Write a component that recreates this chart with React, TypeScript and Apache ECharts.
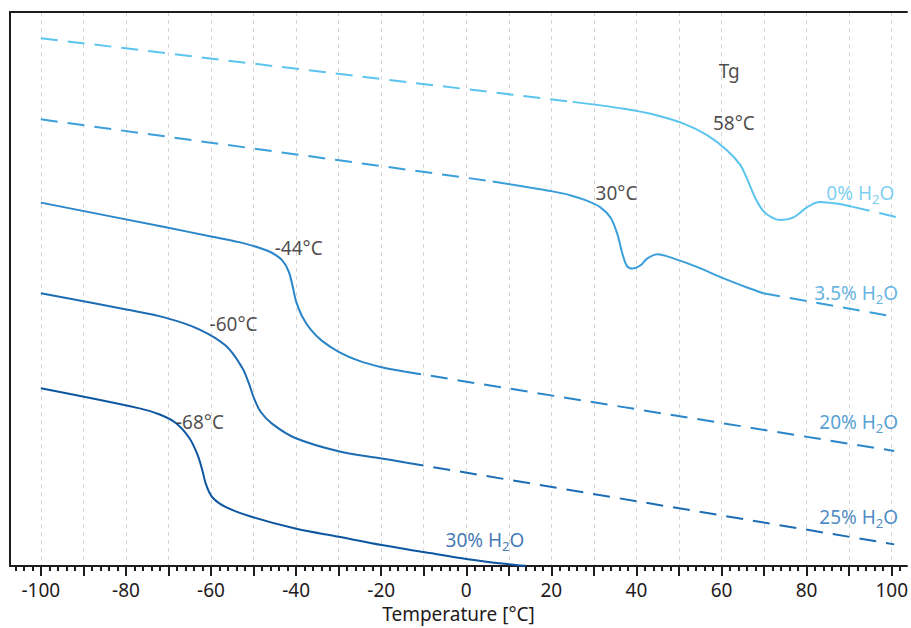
import React, { useEffect, useRef } from 'react';
import * as echarts from 'echarts';

// ---- axis ----
const X_MIN = -107.25;
const X_MAX = 103.6;
const Y_MIN = 0;
const Y_MAX = 561;
const majorTickValues = [-100, -90, -80, -70, -60, -50, -40, -30, -20, -10, 0, 10, 20, 30, 40, 50, 60, 70, 80, 90, 100];
const tickLabelValues = [-100, -80, -60, -40, -20, 0, 20, 40, 60, 80, 100];
const minorTickValues = Array.from({ length: 105 }, (_, i) => -106 + i * 2);
const xAxisTitle = 'Temperature [°C]';

// ---- curves (x = °C, y = arbitrary heat-flow units) ----
const h2o0Dashed = [[-100, 534.5], [25.0, 470]];
const h2o0Solid = [[25.0, 470], [37.1, 463], [44.9, 456.3], [51.1, 448], [56.6, 436.3], [61.2, 421.3], [64.4, 406.3], [65.9, 393], [67.9, 373], [69.8, 359.7], [71.8, 353], [73.7, 350.3], [76.9, 353], [80.0, 363], [83.1, 368.7], [87.0, 367], [90.9, 363.7]];
const h2o0Tail = [[90.9, 363.7], [101.4, 353]];

const h2o35Dashed = [[-100, 452.3], [6.2, 389.5]];
const h2o35Solid = [[6.2, 389.5], [15.2, 383], [19.9, 379.7], [24.6, 375.3], [28.5, 369.7], [31.6, 363], [33.9, 353], [35.5, 336.3], [36.7, 316.3], [37.8, 303.7], [39.0, 301.3], [41.0, 304.7], [42.5, 311.3], [44.9, 315.7], [48.8, 311.3], [54.2, 303], [60.5, 291.3], [65.9, 282.3], [69.8, 276.3]];
const h2o35Tail = [[69.8, 276.3], [99.9, 253]];

const h2o20Solid = [[-100, 368], [-70.6, 343], [-60.0, 333.7], [-53.4, 328], [-48.7, 322.3], [-45.6, 317], [-43.3, 309.7], [-41.7, 298], [-40.8, 283], [-40.0, 268], [-38.6, 253], [-36.6, 239.7], [-33.9, 228], [-30.0, 217], [-25.3, 208], [-19.9, 201.3], [-14.6, 197]];
const h2o20Tail = [[-14.6, 197], [100.6, 116.5]];

const h2o25Solid = [[-100, 276.3], [-79.9, 259.7], [-70.6, 251.3], [-62.8, 239.7], [-56.5, 223], [-52.7, 201], [-51.1, 185], [-49.9, 170], [-48.3, 156], [-45.6, 144], [-40.2, 129.7], [-30.0, 116.3], [-19.9, 109], [-14.0, 104.7]];
const h2o25Tail = [[-14.0, 104.7], [100.6, 22]];

const h2o30Solid = [[-100, 180], [-76.8, 159.7], [-72.2, 153.7], [-68.2, 144.7], [-65.1, 129.7], [-63.2, 113], [-62.0, 96.3], [-61.2, 83], [-59.7, 69.7], [-56.5, 59.7], [-50.3, 49.7], [-40.2, 38], [-30.0, 29.7], [-19.9, 21.3], [-9.7, 14], [0.4, 7], [9.0, 2.3], [14.0, 0.3]];

// ---- series labels ----
const seriesPercent = ['0%', '3.5%', '20%', '25%', '30%'];
const seriesColors = ['#5bc4ef', '#3b9fd9', '#2a86c9', '#1c6db4', '#0e56a0'];
const seriesLabelX = [100.6, 101.5, 101.5, 101.5, 4.4];
const seriesLabelY = [377.3, 276.3, 145.7, 49.7, 26.3];
const seriesLabelAlign = ['right', 'right', 'right', 'right', 'center'];

// ---- Tg annotations ----
const annotationTexts = ['Tg', '58°C', '30°C', '-44°C', '-60°C', '-68°C'];
const annotationX = [61.8, 62.9, 35.3, -39.4, -54.7, -62.6];
const annotationY = [501, 449, 377.5, 322, 245.5, 145.5];

const FONT = 'Noto Sans';
const INK = '#1f1b1c';
const FS = 19;
const DASH = [17, 10];

function lineSeries(data: number[][], color: string, dashed: boolean) {
  return {
    type: 'line',
    data,
    showSymbol: false,
    symbol: 'none',
    smooth: dashed ? false : 0.35,
    silent: true,
    z: 3,
    itemStyle: { color },
    lineStyle: { color, width: 2, type: dashed ? DASH : 'solid', cap: 'butt' },
  };
}

export default function App() {
  const ref = useRef<HTMLDivElement>(null);
  useEffect(() => {
    const chart = echarts.init(ref.current!, null, { renderer: 'svg' });
    const curveSeries = [
      lineSeries(h2o0Dashed, seriesColors[0], true),
      lineSeries(h2o0Solid, seriesColors[0], false),
      lineSeries(h2o0Tail, seriesColors[0], true),
      lineSeries(h2o35Dashed, seriesColors[1], true),
      lineSeries(h2o35Solid, seriesColors[1], false),
      lineSeries(h2o35Tail, seriesColors[1], true),
      lineSeries(h2o20Solid, seriesColors[2], false),
      lineSeries(h2o20Tail, seriesColors[2], true),
      lineSeries(h2o25Solid, seriesColors[3], false),
      lineSeries(h2o25Tail, seriesColors[3], true),
      lineSeries(h2o30Solid, seriesColors[4], false),
    ];
    const labelSeries = {
      type: 'scatter',
      symbolSize: 1,
      silent: true,
      z: 5,
      itemStyle: { color: 'rgba(0,0,0,0)' },
      data: [
        ...annotationTexts.map((t, i) => ({
          value: [annotationX[i], annotationY[i]],
          label: {
            show: true,
            position: 'inside',
            formatter: t,
            color: INK,
            fontSize: FS,
            fontFamily: FONT,
            align: 'center',
            verticalAlign: 'middle',
          },
        })),
        ...seriesPercent.map((p, i) => ({
          value: [seriesLabelX[i], seriesLabelY[i]],
          label: {
            show: true,
            position: 'inside',
            formatter: `{t|${p} H}{s|2}{t|O}`,
            color: seriesColors[i],
            align: seriesLabelAlign[i],
            verticalAlign: 'middle',
            rich: {
              t: { fontSize: FS, fontFamily: FONT, color: seriesColors[i] },
              s: { fontSize: 13, fontFamily: FONT, color: seriesColors[i], padding: [12, 0, 0, 0] },
            },
          },
        })),
      ],
    };
    chart.setOption({
      animation: false,
      backgroundColor: '#ffffff',
      grid: { left: 10, right: 0, top: 12, bottom: 55, containLabel: false },
      xAxis: [
        {
          type: 'value',
          position: 'bottom',
          min: X_MIN,
          max: X_MAX,
          name: xAxisTitle,
          nameLocation: 'middle',
          nameGap: 32,
          nameTextStyle: { color: INK, fontSize: FS, fontFamily: FONT },
          axisLine: { show: true, onZero: false, lineStyle: { color: INK, width: 2 } },
          axisTick: { show: true, inside: false, length: 10, customValues: majorTickValues, lineStyle: { color: INK, width: 2 } },
          axisLabel: { show: true, margin: 14, customValues: tickLabelValues, color: INK, fontSize: FS, fontFamily: FONT },
          splitLine: { show: true, lineStyle: { color: '#d6d6d6', width: 1, type: [4, 4] } },
          minorTick: { show: false },
          minorSplitLine: { show: false },
        },
        {
          type: 'value',
          position: 'bottom',
          min: X_MIN,
          max: X_MAX,
          axisLine: { show: false, onZero: false },
          axisTick: { show: true, inside: false, length: 5, customValues: minorTickValues, lineStyle: { color: INK, width: 2 } },
          axisLabel: { show: false },
          splitLine: { show: false },
        },
        {
          type: 'value',
          position: 'top',
          min: X_MIN,
          max: X_MAX,
          axisLine: { show: true, onZero: false, lineStyle: { color: INK, width: 2 } },
          axisTick: { show: false },
          axisLabel: { show: false },
          splitLine: { show: false },
        },
      ],
      yAxis: {
        type: 'value',
        min: Y_MIN,
        max: Y_MAX,
        axisLine: { show: true, onZero: false, lineStyle: { color: INK, width: 2 } },
        axisTick: { show: false },
        axisLabel: { show: false },
        splitLine: { show: false },
      },
      series: [...curveSeries, labelSeries],
    });
    return () => chart.dispose();
  }, []);
  return <div ref={ref} style={{ position: 'absolute', left: 0, top: 0, width: 911, height: 628 }} />;
}
